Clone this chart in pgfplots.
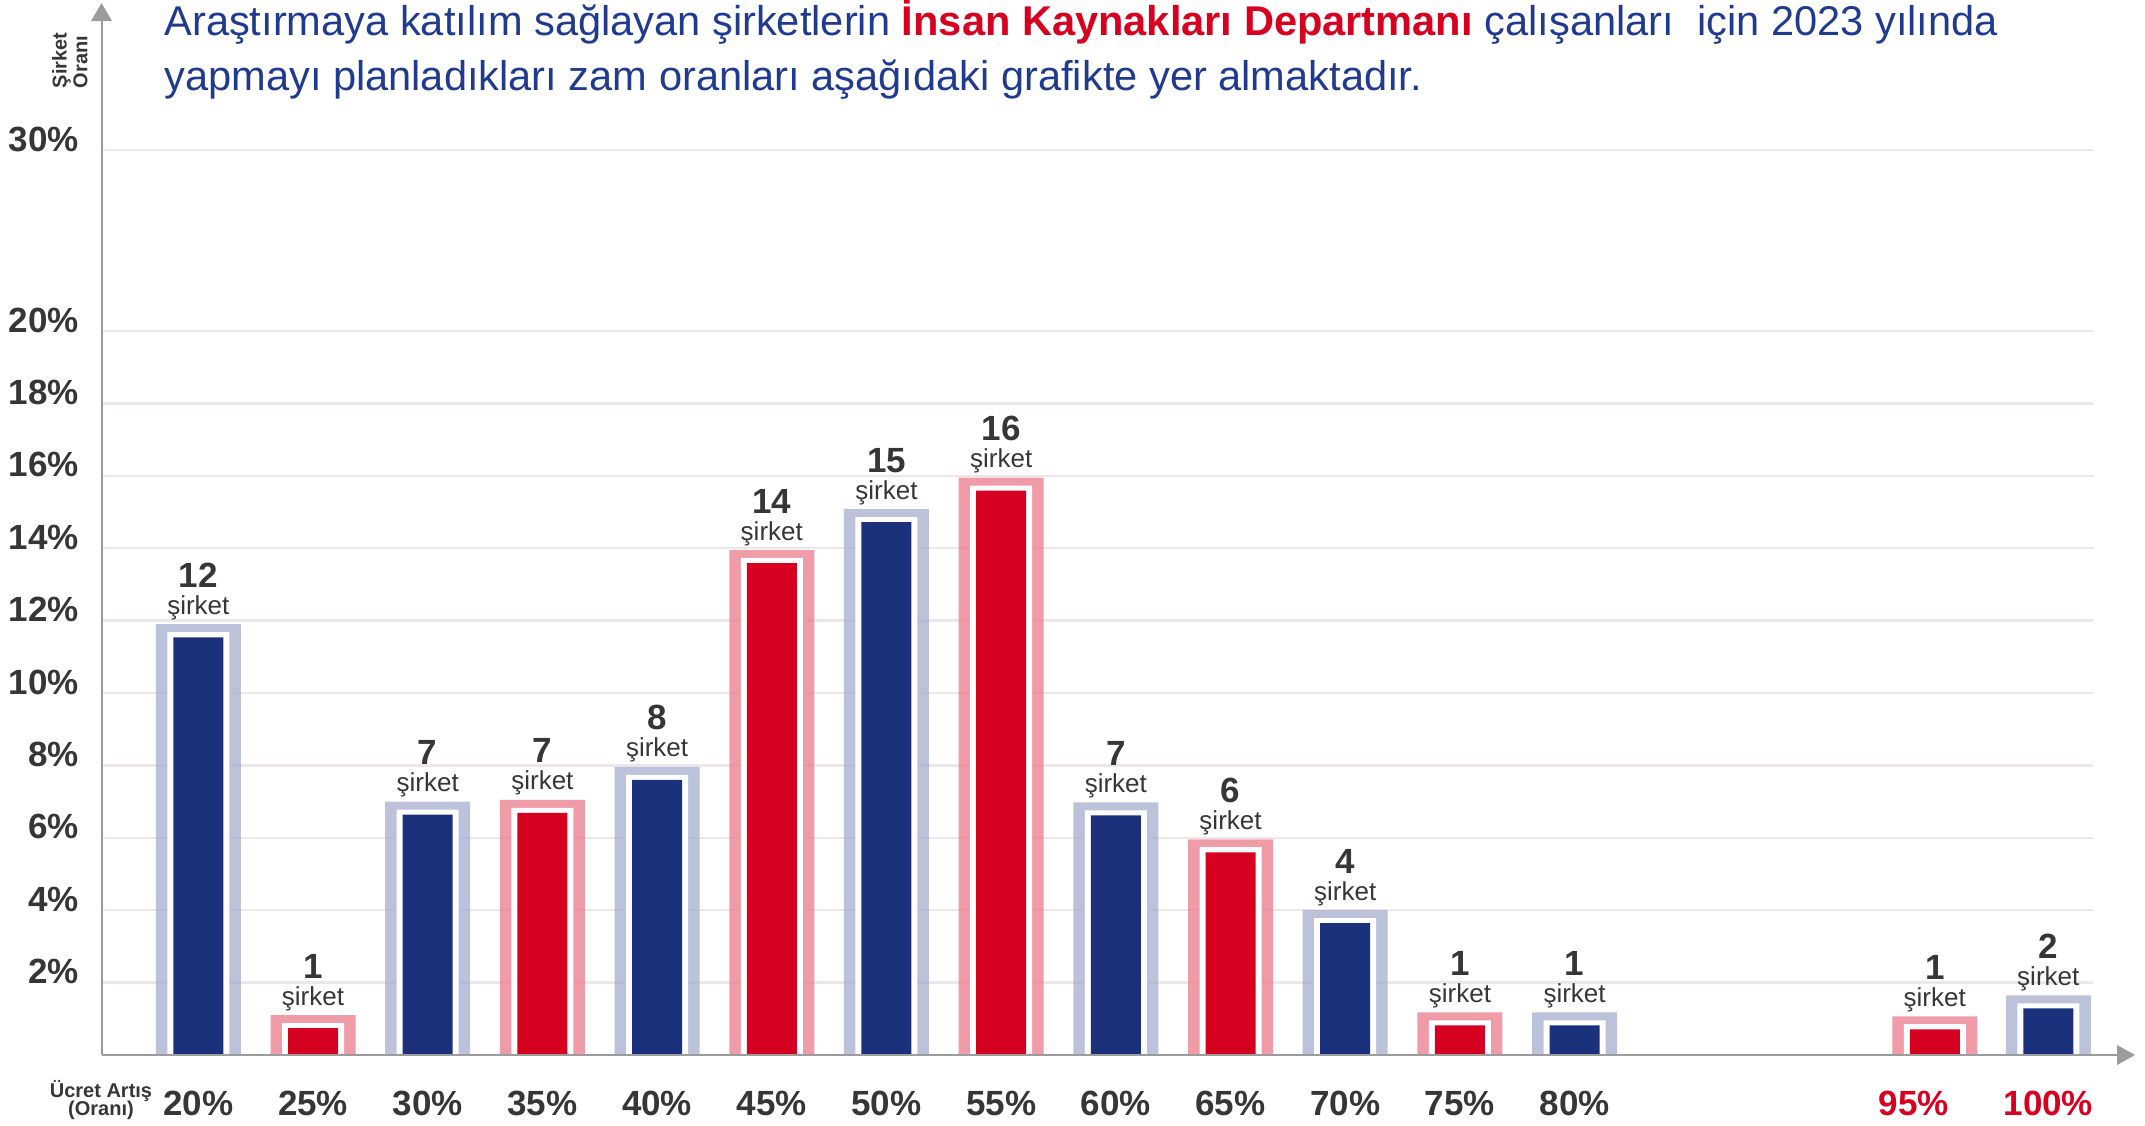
\documentclass[border=0pt]{standalone}
\usepackage{fontspec}
\setmainfont{Liberation Sans}
\usepackage{pgfplots}
\pgfplotsset{compat=1.18}
\usepackage{pgfplotstable}
\definecolor{navy}{HTML}{1C317B}
\definecolor{navyf}{RGB}{166,174,204}
\definecolor{redb}{HTML}{D60021}
\definecolor{redf}{RGB}{234,123,139}
\definecolor{titleblue}{HTML}{1F3A8E}
\definecolor{txt}{HTML}{363636}
\definecolor{gridc}{HTML}{EEE7EA}
\definecolor{axisc}{HTML}{9C9C9C}

\pgfplotstableread{
x y n
0 11.9 12
2 7.0 7
4 7.96 8
6 15.08 15
8 6.98 7
10 4.0 4
12 1.18 1
16.13 1.65 2
}\navydata
\pgfplotstableread{
x y n
1 1.10 1
3 7.05 7
5 13.95 14
7 15.95 16
9 5.96 6
11 1.18 1
15.14 1.07 1
}\reddata

\begin{document}
\begin{tikzpicture}
\useasboundingbox (0,0) rectangle (1072.5pt,-562.5pt);
\begin{axis}[
  at={(51pt,-527.5pt)}, anchor=south west,
  scale only axis, width=995.5pt, height=452.5pt,
  xmin=-0.84, xmax=16.52, ymin=0, ymax=25,
  clip=false,
  axis line style={draw=none},
  tick style={draw=none},
  ytick={2,4,6,8,10,12,14,16,18,20,25},
  yticklabels={2\%,4\%,6\%,8\%,10\%,12\%,14\%,16\%,18\%,20\%,30\%},
  xtick={0,1,2,3,4,5,6,7,8,9,10,11,12,15.14,16.13},
  xticklabels={20\%,25\%,30\%,35\%,40\%,45\%,50\%,55\%,60\%,65\%,70\%,75\%,80\%,\textcolor{redb}{95\%}\rule{21pt}{0pt},\textcolor{redb}{100\%}},
  ymajorgrids,
  grid style={color=gridc, line width=1.2pt},
  yticklabel style={anchor=base east, inner sep=0pt, xshift=-11.5pt, yshift=-0.5pt, font=\fontsize{17.5pt}{20pt}\selectfont\bfseries, text=txt},
  xticklabel style={anchor=base, inner sep=0pt, yshift=-30.25pt, font=\fontsize{17.5pt}{20pt}\selectfont\bfseries, text=txt},
]
% navy bars
\addplot[ybar, bar width=42.5pt, bar shift=0pt, fill=navyf, fill opacity=0.75, draw=none] table[x=x,y=y]{\navydata};
\addplot[ybar, bar width=31pt, bar shift=0pt, fill=white, draw=none] table[x=x,y expr=\thisrow{y}-0.22]{\navydata};
\addplot[ybar, bar width=25pt, bar shift=0pt, fill=navy, draw=none] table[x=x,y expr=\thisrow{y}-0.36]{\navydata};
% red bars
\addplot[ybar, bar width=42.5pt, bar shift=0pt, fill=redf, fill opacity=0.75, draw=none] table[x=x,y=y]{\reddata};
\addplot[ybar, bar width=31pt, bar shift=0pt, fill=white, draw=none] table[x=x,y expr=\thisrow{y}-0.22]{\reddata};
\addplot[ybar, bar width=25pt, bar shift=0pt, fill=redb, draw=none] table[x=x,y expr=\thisrow{y}-0.36]{\reddata};
% labels
\addplot[draw=none, mark=none, point meta=explicit symbolic, nodes near coords={\pgfplotspointmeta},
  every node near coord/.append style={anchor=base, yshift=18.5pt, inner sep=0pt, font=\fontsize{17.5pt}{20pt}\selectfont\bfseries, text=txt}]
  table[x=x,y=y,meta=n]{\navydata};
\addplot[draw=none, mark=none, point meta=explicit symbolic, nodes near coords={şirket},
  every node near coord/.append style={anchor=base, yshift=5pt, inner sep=0pt, font=\fontsize{13pt}{15pt}\selectfont, text=txt}]
  table[x=x,y=y,meta=n]{\navydata};
\addplot[draw=none, mark=none, point meta=explicit symbolic, nodes near coords={\pgfplotspointmeta},
  every node near coord/.append style={anchor=base, yshift=18.5pt, inner sep=0pt, font=\fontsize{17.5pt}{20pt}\selectfont\bfseries, text=txt}]
  table[x=x,y=y,meta=n]{\reddata};
\addplot[draw=none, mark=none, point meta=explicit symbolic, nodes near coords={şirket},
  every node near coord/.append style={anchor=base, yshift=5pt, inner sep=0pt, font=\fontsize{13pt}{15pt}\selectfont, text=txt}]
  table[x=x,y=y,meta=n]{\reddata};
\end{axis}
% axis lines with arrows
\draw[axisc, line width=0.75pt] (51pt,-527.5pt) -- (1058.5pt,-527.5pt);
\fill[axisc] (1067.5pt,-527.5pt) -- (1058.5pt,-522.5pt) -- (1058.5pt,-532.5pt) -- cycle;
\draw[axisc, line width=0.75pt] (51pt,-527.5pt) -- (51pt,-10pt);
\fill[axisc] (50.75pt,-1.5pt) -- (45.5pt,-10.5pt) -- (56pt,-10.5pt) -- cycle;
% title
\node[anchor=base west, inner sep=0pt, font=\fontsize{20.8pt}{24pt}\selectfont, text=titleblue] at (82pt,-17.5pt)
  {Araştırmaya katılım sağlayan şirketlerin \textcolor{redb}{\textbf{İnsan Kaynakları Departmanı}} çalışanları\ \ için 2023 yılında};
\node[anchor=base west, inner sep=0pt, font=\fontsize{20.8pt}{24pt}\selectfont, text=titleblue] at (82pt,-45pt)
  {yapmayı planladıkları zam oranları aşağıdaki grafikte yer almaktadır.};
% axis titles
\node[rotate=90, anchor=base west, inner sep=0pt, font=\fontsize{10pt}{11pt}\selectfont\bfseries, text=txt] at (33.3pt,-44.2pt) {Şirket};
\node[rotate=90, anchor=base west, inner sep=0pt, font=\fontsize{10pt}{11pt}\selectfont\bfseries, text=txt] at (43.7pt,-44.2pt) {Oranı};
\node[anchor=base, inner sep=0pt, font=\fontsize{10pt}{11pt}\selectfont\bfseries, text=txt] at (50.5pt,-548.5pt) {Ücret Artış};
\node[anchor=base, inner sep=0pt, font=\fontsize{10pt}{11pt}\selectfont\bfseries, text=txt] at (50.5pt,-557.5pt) {(Oranı)};
\end{tikzpicture}
\end{document}
